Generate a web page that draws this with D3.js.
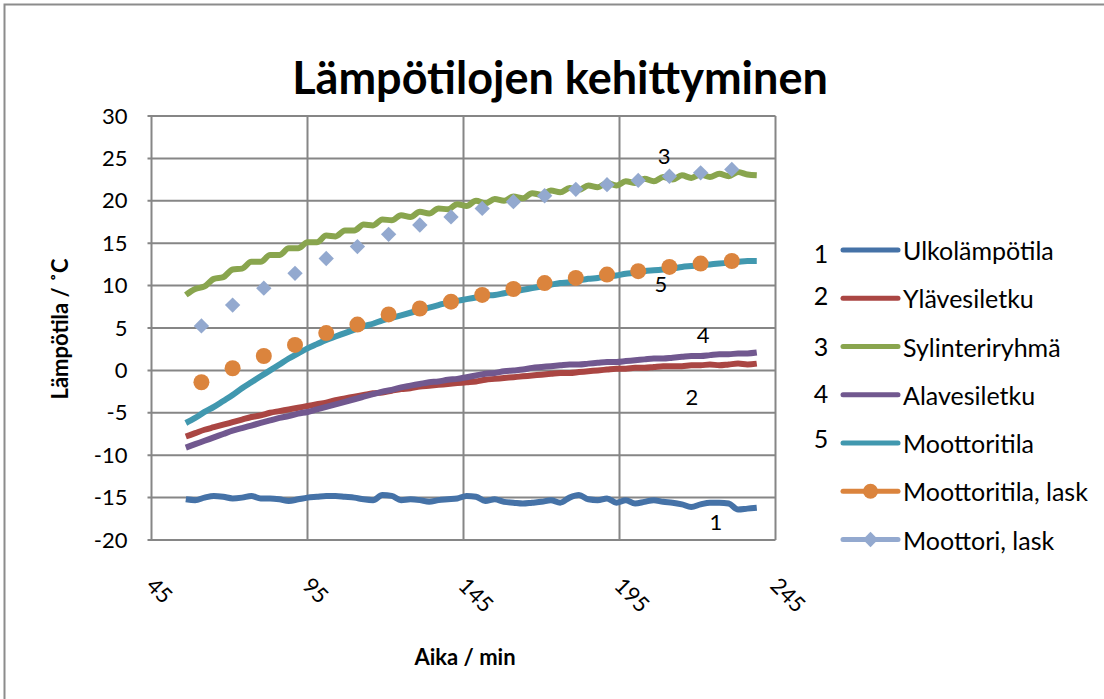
<!DOCTYPE html>
<html>
<head>
<meta charset="utf-8">
<title>Lämpötilojen kehittyminen</title>
<style>
body { margin: 0; background: #fff; }
text { font-family: Lato, "Open Sans", sans-serif; fill: #000; }
.title { font-size: 45px; font-weight: bold; }
.axisTitle { font-size: 22px; font-weight: bold; }
.tick text { font-size: 22px; }
.legend text { font-size: 25px; }
.num { font-size: 22px; }
.grid line { stroke: #868686; stroke-width: 2; }
.serie { fill: none; stroke-width: 6; stroke-linejoin: round; stroke-linecap: butt; }
</style>
<script src="https://d3js.org/d3.v7.min.js"></script>
</head>
<body>
<script>
// mittausajat (min)
var aika = [56,59,62,65,68,71,74,77,80,83,
            86,89,92,95,98,101,104,107,110,113,
            116,119,122,125,128,131,134,137,140,143,
            146,149,152,155,158,161,164,167,170,173,
            176,179,182,185,188,191,194,197,200,203,
            206,209,212,215,218,221,224,227,230,233,
            236,239];

var ulkolampotila = [-15.2,-15.3,-15.0,-14.8,-14.9,-15.1,-15.0,-14.8,-15.1,-15.1,
                     -15.2,-15.4,-15.2,-15.0,-14.9,-14.8,-14.8,-14.9,-15.0,-15.2,
                     -15.3,-14.7,-14.8,-15.3,-15.2,-15.3,-15.5,-15.3,-15.2,-15.1,
                     -14.8,-14.9,-15.4,-15.2,-15.5,-15.6,-15.7,-15.6,-15.5,-15.3,
                     -15.6,-15.0,-14.7,-15.2,-15.3,-15.1,-15.6,-15.3,-15.7,-15.5,
                     -15.3,-15.5,-15.6,-15.8,-16.1,-15.8,-15.6,-15.6,-15.7,-16.4,
                     -16.3,-16.2];

var ylavesiletku = [-7.8,-7.4,-7.0,-6.7,-6.4,-6.1,-5.8,-5.5,-5.3,-5.0,
                    -4.8,-4.6,-4.4,-4.2,-4.0,-3.8,-3.5,-3.3,-3.1,-2.9,
                    -2.7,-2.6,-2.4,-2.2,-2.1,-1.9,-1.8,-1.7,-1.6,-1.5,
                    -1.4,-1.3,-1.1,-1.0,-0.9,-0.8,-0.7,-0.6,-0.5,-0.4,
                    -0.3,-0.3,-0.2,-0.1,0.0,0.1,0.2,0.2,0.3,0.3,
                    0.4,0.5,0.5,0.5,0.6,0.6,0.7,0.6,0.7,0.8,
                    0.7,0.8];

var sylinteriryhma = [8.9,9.6,9.9,10.8,11.0,11.9,12.0,12.8,12.8,13.6,
                      13.6,14.4,14.4,15.1,15.1,15.9,15.8,16.5,16.5,17.2,
                      17.1,17.8,17.7,18.3,18.1,18.7,18.5,19.1,19.0,19.6,
                      19.4,20.0,19.7,20.2,20.0,20.5,20.3,20.9,20.7,21.2,
                      21.0,21.5,21.3,21.8,21.6,22.1,21.8,22.3,22.1,22.6,
                      22.3,22.8,22.5,23.0,22.7,23.1,22.8,23.2,22.9,23.4,
                      23.1,23.0];

var alavesiletku = [-9.1,-8.7,-8.3,-7.9,-7.5,-7.1,-6.8,-6.5,-6.2,-5.9,
                    -5.6,-5.4,-5.1,-4.9,-4.6,-4.3,-4.0,-3.7,-3.4,-3.1,
                    -2.8,-2.5,-2.3,-2.0,-1.8,-1.6,-1.4,-1.3,-1.1,-1.0,
                    -0.8,-0.6,-0.4,-0.3,-0.1,0.0,0.1,0.3,0.4,0.5,
                    0.6,0.7,0.7,0.8,0.9,1.0,1.0,1.1,1.2,1.3,
                    1.4,1.4,1.5,1.6,1.7,1.7,1.8,1.9,1.9,2.0,
                    2.0,2.1];

var moottoritila = [-6.2,-5.6,-4.9,-4.3,-3.6,-2.9,-2.1,-1.4,-0.7,0.0,
                    0.7,1.4,2.0,2.6,3.1,3.6,4.0,4.4,4.8,5.2,
                    5.5,5.9,6.2,6.5,6.8,7.1,7.4,7.7,8.0,8.2,
                    8.4,8.6,8.8,8.9,9.1,9.3,9.5,9.7,9.9,10.1,
                    10.3,10.4,10.6,10.8,10.9,11.1,11.2,11.4,11.5,11.7,
                    11.8,11.9,12.0,12.2,12.3,12.4,12.5,12.6,12.7,12.8,
                    12.9,12.9];

// lasketut arvot
var laskAika = [61,71,81,91,101,111,121,131,141,151,161,171,181,191,201,211,221,231];
var moottoritilaLask = [-1.4,0.25,1.7,3.0,4.4,5.4,6.6,7.3,8.1,8.9,9.6,10.3,10.9,11.3,11.7,12.2,12.6,12.9];
var moottoriLask = [5.25,7.7,9.7,11.45,13.2,14.6,16.05,17.15,18.1,19.1,19.9,20.6,21.35,21.9,22.4,22.9,23.3,23.7];

var sarjaNimet = ["Ulkolämpötila", "Ylävesiletku", "Sylinteriryhmä", "Alavesiletku",
                  "Moottoritila", "Moottoritila, lask", "Moottori, lask"];
var sarjaNumerot = ["1", "2", "3", "4", "5", "", ""];
var varit = ["#4572A7", "#AA4643", "#89A54E", "#71588F", "#4198AF", "#DB843D", "#93A9CF"];

var xTicks = [45, 95, 145, 195, 245];
var yTicks = [-20, -15, -10, -5, 0, 5, 10, 15, 20, 25, 30];

// numerot kuvaajan sisällä (aika, lämpötila)
var numeroLabels = [
  {teksti: "3", aika: 209.3, arvo: 25.3},
  {teksti: "5", aika: 208.3, arvo: 10.3},
  {teksti: "4", aika: 221.8, arvo: 4.2},
  {teksti: "2", aika: 218.2, arvo: -3.1},
  {teksti: "1", aika: 225.9, arvo: -17.8}
];

var W = 1104, H = 699;
var plot = {left: 151.5, right: 775.5, top: 116, bottom: 540};

var svg = d3.select("body").append("svg")
    .attr("width", W)
    .attr("height", H);

// ulkokehys
svg.append("rect")
   .attr("x", 4.5).attr("y", 4.5)
   .attr("width", W + 20).attr("height", H + 20)
   .attr("fill", "#fff")
   .attr("stroke", "#8c8c8c")
   .attr("stroke-width", 2);

var x = d3.scaleLinear().domain([45, 245]).range([plot.left, plot.right]);
var y = d3.scaleLinear().domain([-20, 30]).range([plot.bottom, plot.top]);
var fmt = function(d) { return String(d); };

// ruudukko
var grid = svg.append("g").attr("class", "grid");
grid.selectAll(".h").data(yTicks).enter().append("line")
    .attr("x1", plot.left - 4).attr("x2", plot.right)
    .attr("y1", function(d) { return y(d); })
    .attr("y2", function(d) { return y(d); });
grid.selectAll(".v").data(xTicks).enter().append("line")
    .attr("x1", function(d) { return x(d); })
    .attr("x2", function(d) { return x(d); })
    .attr("y1", plot.top).attr("y2", plot.bottom);

// akselit
var yAxis = svg.append("g")
    .attr("transform", "translate(" + (plot.left - 4) + ",0)")
    .call(d3.axisLeft(y).tickValues(yTicks).tickFormat(fmt).tickSize(0).tickPadding(20));
yAxis.select(".domain").remove();
yAxis.selectAll(".tick text").attr("font-family", null).attr("font-size", null);

var xAxis = svg.append("g")
    .attr("transform", "translate(0," + plot.bottom + ")")
    .call(d3.axisBottom(x).tickValues(xTicks).tickFormat(fmt).tickSize(0));
xAxis.select(".domain").remove();
xAxis.selectAll(".tick text")
    .attr("font-family", null).attr("font-size", null)
    .attr("y", 0).attr("dy", null)
    .attr("text-anchor", "start")
    .attr("transform", "translate(-7,47) rotate(45)");

// otsikot
svg.append("text").attr("class", "title")
   .attr("x", 560).attr("y", 94)
   .attr("text-anchor", "middle")
   .text("Lämpötilojen kehittyminen");
svg.append("text").attr("class", "axisTitle")
   .attr("x", 465).attr("y", 665)
   .attr("text-anchor", "middle")
   .text("Aika / min");
svg.append("text").attr("class", "axisTitle")
   .attr("transform", "translate(68,329) rotate(-90)")
   .attr("text-anchor", "middle")
   .text("Lämpötila / ˚C");

// sarjat
var mitatut = [ulkolampotila, ylavesiletku, sylinteriryhma, alavesiletku, moottoritila];
var line = d3.line()
    .curve(d3.curveMonotoneX)
    .x(function(d) { return x(d[0]); })
    .y(function(d) { return y(d[1]); });

mitatut.forEach(function(arvot, i) {
  svg.append("path")
     .attr("class", "serie")
     .attr("stroke", varit[i])
     .attr("d", line(aika.map(function(t, j) { return [t, arvot[j]]; })));
});

svg.selectAll(".ympyra")
   .data(laskAika)
   .enter().append("circle")
   .attr("cx", function(d) { return x(d); })
   .attr("cy", function(d, i) { return y(moottoritilaLask[i]); })
   .attr("r", 8)
   .attr("fill", varit[5]);

var diamond = d3.symbol().type(d3.symbolDiamond2).size(150);
svg.selectAll(".vinoneliö")
   .data(laskAika)
   .enter().append("path")
   .attr("d", diamond)
   .attr("transform", function(d, i) { return "translate(" + x(d) + "," + y(moottoriLask[i]) + ")"; })
   .attr("fill", varit[6]);

// numerot
svg.selectAll(".num")
   .data(numeroLabels)
   .enter().append("text")
   .attr("class", "num")
   .attr("x", function(d) { return x(d.aika); })
   .attr("y", function(d) { return y(d.arvo); })
   .attr("text-anchor", "middle")
   .attr("dominant-baseline", "central")
   .text(function(d) { return d.teksti; });

// selite
var legend = svg.append("g").attr("class", "legend");
var rowY = d3.scaleLinear().domain([0, 6]).range([250, 539.5]);
var numOffset = [3, -3, -1, -2, -5, 0, 0];
sarjaNimet.forEach(function(nimi, i) {
  var yy = rowY(i);
  legend.append("line")
        .attr("x1", 843).attr("x2", 898)
        .attr("y1", yy).attr("y2", yy)
        .attr("stroke", varit[i])
        .attr("stroke-width", 5)
        .attr("stroke-linecap", "round");
  if (i == 5) {
    legend.append("circle").attr("cx", 870.5).attr("cy", yy).attr("r", 7.5).attr("fill", varit[i]);
  }
  if (i == 6) {
    legend.append("path").attr("d", diamond)
          .attr("transform", "translate(870.5," + yy + ")")
          .attr("fill", varit[i]);
  }
  legend.append("text")
        .attr("x", 903).attr("y", yy)
        .attr("dominant-baseline", "central")
        .text(nimi);
  legend.append("text")
        .attr("class", "num")
        .attr("x", 821).attr("y", yy + numOffset[i])
        .attr("text-anchor", "middle")
        .attr("dominant-baseline", "central")
        .text(sarjaNumerot[i]);
});
</script>
</body>
</html>
